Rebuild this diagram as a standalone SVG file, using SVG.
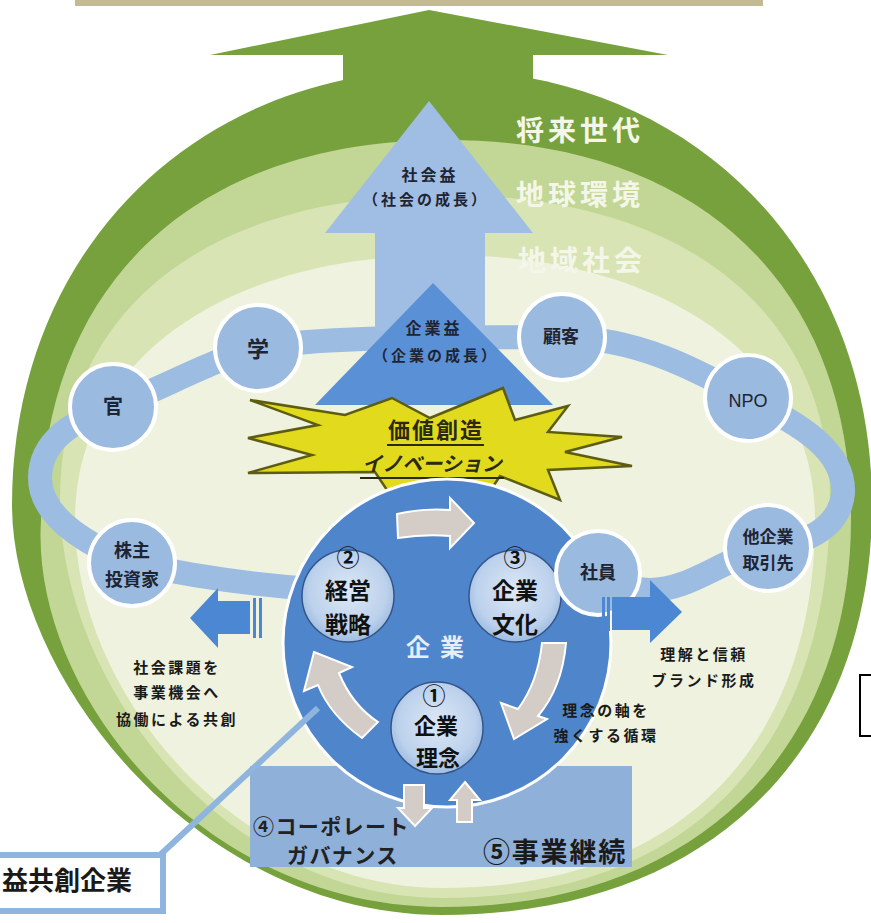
<svg xmlns="http://www.w3.org/2000/svg" width="871" height="923" viewBox="0 0 871 923">
<defs>
<style>
text{font-family:"Noto Sans CJK JP","Noto Sans",sans-serif;font-weight:700}
.ring{fill:#f4f6ea;font-size:28px;letter-spacing:4px}
.nd{fill:#9bbadf;stroke:#ffffff;stroke-width:4}
.nt{fill:#1f2433;text-anchor:middle}
.inner{fill:url(#ig);stroke:#34558a;stroke-width:1.5}
.it{fill:#111111;text-anchor:middle;font-size:23px}
.gray{fill:#d4ccc6;stroke:#ffffff;stroke-width:2}
.blk{fill:#1a1a1a;text-anchor:middle;font-size:15px;letter-spacing:2.5px}
.barr{fill:#4b87d3}
</style>
<radialGradient id="ig" cx="0.5" cy="0.45" r="0.6">
<stop offset="0" stop-color="#dde8f5"/>
<stop offset="0.7" stop-color="#bcd1ec"/>
<stop offset="1" stop-color="#93b4dc"/>
</radialGradient>
</defs>
<rect x="0" y="0" width="871" height="923" fill="#ffffff"/>
<rect x="75" y="-4" width="688" height="10" fill="#c3b995"/>

<g id="dome">
<path d="M429,10 L668,55 L533,55 L533,140 L343,140 L343,55 L210,55 Z" fill="#76a13c"/>
<path d="M442,70 C691,70 872,253 872,505 C872,740 720,915 442,915 C200,915 12,680 12,505 C12,253 193,70 442,70 Z" fill="#76a13c"/>
<path d="M446,140 C697,140 851,284 851,520 C851,735 712,907 442,907 C200,907 30,690 41,520 C41,284 195,140 446,140 Z" fill="#c2d695"/>
<path d="M445,195 C684,195 830,311 830,500 C830,735 705,898 442,898 C230,898 60,690 60,500 C60,311 206,195 445,195 Z" fill="#d8e4b4"/>
<path d="M445,255 C667,255 815,361 815,520 C815,730 695,888 442,888 C245,888 75,700 75,520 C75,361 223,255 445,255 Z" fill="#eef2df"/>
<text class="ring" x="516" y="141">将来世代</text>
<text class="ring" x="516" y="205">地球環境</text>
<text class="ring" x="518" y="271">地域社会</text>
</g>

<g id="connectors">
<path d="M132,563 C95,548 40,520 40,478 C40,440 75,420 113,407 C160,390 210,360 258,348 C330,335 470,338 562,337 C640,338 700,372 748,398 C800,425 845,450 843,493 C840,530 800,545 768,548 C720,560 690,590 650,590 C625,590 610,580 598,573 C480,600 300,600 132,563 Z" fill="none" stroke="#9cbce1" stroke-width="24"/>
</g>

<g id="social-arrow">
<path d="M429,101 L533,233 L485,233 L485,330 L375,330 L375,233 L325,233 Z" fill="#a0bee3"/>
<text class="nt" font-size="16" letter-spacing="3"><tspan x="430" y="181">社会益</tspan><tspan x="426" y="205" font-size="15">（社会の成長）</tspan></text>
</g>

<g id="corp-arrow">
<path d="M433,283 L553,405 L315,405 Z" fill="#5a90d6"/>
<text class="nt" font-size="16" letter-spacing="3"><tspan x="434" y="334">企業益</tspan><tspan x="436" y="361" font-size="15">（企業の成長）</tspan></text>
</g>

<g id="innovation">
<path d="M248,438 L318,425 L250,400 L345,415 L392,398 L430,418 L503,388 L515,420 L568,406 L548,432 L622,437 L565,452 L632,466 L548,470 L560,500 L500,476 L484,500 L448,480 L397,505 L375,472 L248,473 L312,455 Z" fill="#e2da1c" stroke="#5d5d12" stroke-width="2.5" stroke-linejoin="miter"/>
<text x="436" y="438" font-size="22" text-anchor="middle" letter-spacing="2" fill="#2a2a10">価値創造</text>
<line x1="387" y1="445" x2="484" y2="445" stroke="#2a2a10" stroke-width="2"/>
<text x="432" y="471" font-size="20" text-anchor="middle" font-style="italic" fill="#2a2a10">イノベーション</text>
<line x1="360" y1="478" x2="504" y2="478" stroke="#2a2a10" stroke-width="2"/>
</g>

<g id="continuity-box">
<rect x="250" y="766" width="382" height="101" fill="#8fb0d9"/>
<text font-size="21" letter-spacing="1.4" fill="#222222"><tspan x="253" y="834">④コーポレート</tspan><tspan x="287" y="863">ガバナンス</tspan></text>
<text x="483" y="862" font-size="27" letter-spacing="1.8" fill="#1a1a1a">⑤事業継続</text>
</g>

<g id="company">
<circle cx="447" cy="643" r="164" fill="#4f86cb" stroke="#ffffff" stroke-width="3"/>
<text x="440" y="656" font-size="24" text-anchor="middle" letter-spacing="10" fill="#e8eef8">企業</text>
<path class="gray" d="M397,514 Q424,508 450,510 L450,498 L474,523 L450,548 L450,536 Q424,534 398,538 Z"/>
<path class="gray" d="M542,643 L566,643 Q562,688 538,716 L547,719 L514,739 L501,703 L518,709 Q538,682 542,643 Z"/>
<path class="gray" d="M314,652 L352,667 L339,673 Q352,705 378,722 L362,738 Q330,715 318,685 L304,691 Z"/>
<path class="gray" d="M404,785 L424,785 L424,808 L432,808 L415,826 L398,808 L404,808 Z"/>
<path class="gray" d="M465,782 L480,800 L472,800 L472,822 L457,822 L457,800 L450,800 Z"/>
</g>

<g id="strategy">
<circle class="inner" cx="348" cy="596" r="46"/>
<text class="it" x="348" y="566" font-size="13">②</text>
<text class="it" x="348" y="599">経営</text>
<text class="it" x="348" y="633">戦略</text>
</g>
<g id="culture">
<circle class="inner" cx="515" cy="596" r="46"/>
<text class="it" x="515" y="566" font-size="13">③</text>
<text class="it" x="515" y="599">企業</text>
<text class="it" x="515" y="633">文化</text>
</g>
<g id="philosophy">
<circle class="inner" cx="437" cy="728" r="46"/>
<text class="it" x="434" y="704" font-size="12">①</text>
<text class="it" x="436" y="734" style="font-size:22px">企業</text>
<text class="it" x="438" y="766" style="font-size:22px">理念</text>
</g>

<g id="node-kan"><circle class="nd" cx="113" cy="407" r="43"/><text class="nt" x="113" y="414" font-size="20">官</text></g>
<g id="node-gaku"><circle class="nd" cx="258" cy="348" r="43"/><text class="nt" x="258" y="357" font-size="22">学</text></g>
<g id="node-kabunushi"><circle class="nd" cx="132" cy="563" r="43"/><text class="nt" font-size="18"><tspan x="132" y="557">株主</tspan><tspan x="132" y="586">投資家</tspan></text></g>
<g id="node-kokyaku"><circle class="nd" cx="562" cy="337" r="43"/><text class="nt" x="561" y="343" font-size="18">顧客</text></g>
<g id="node-npo"><circle class="nd" cx="748" cy="398" r="43"/><text class="nt" x="748" y="407" font-size="18" style="font-family:'Liberation Sans',sans-serif;font-weight:400">NPO</text></g>
<g id="node-takigyo"><circle class="nd" cx="768" cy="548" r="43"/><text class="nt" font-size="17"><tspan x="768" y="543">他企業</tspan><tspan x="768" y="569">取引先</tspan></text></g>
<g id="node-shain"><circle class="nd" cx="598" cy="573" r="42"/><text class="nt" x="598" y="579" font-size="18">社員</text></g>

<g id="left-arrow">
<path class="barr" d="M190,618 L218,588 L218,601 L250,601 L250,634 L218,634 L218,648 Z"/>
<rect class="barr" x="253" y="598" width="3" height="40"/>
<rect class="barr" x="259" y="598" width="3" height="40"/>
</g>
<g id="right-arrow">
<rect class="barr" x="602" y="597" width="3" height="34"/>
<rect class="barr" x="607" y="597" width="3" height="34"/>
<path class="barr" d="M612,597 L650,597 L650,580 L682,612 L650,643 L650,630 L612,630 Z"/>
</g>

<g id="left-text">
<text class="blk"><tspan x="177" y="673">社会課題を</tspan><tspan x="177" y="698">事業機会へ</tspan><tspan x="177" y="725">協働による共創</tspan></text>
</g>
<g id="right-text">
<text class="blk"><tspan x="704" y="660">理解と信頼</tspan><tspan x="704" y="686">ブランド形成</tspan></text>
<text class="blk"><tspan x="606" y="716">理念の軸を</tspan><tspan x="606" y="741">強くする循環</tspan></text>
</g>

<g id="label">
<line x1="160" y1="855" x2="318" y2="708" stroke="#8fb5df" stroke-width="6"/>
<rect x="-10" y="855" width="173" height="56" fill="#ffffff" stroke="#8fb5df" stroke-width="6"/>
<text x="2" y="890" font-size="26" fill="#1a1a1a">益共創企業</text>
</g>

<g id="bracket">
<path d="M872,675 L860,675 L860,736 L872,736" fill="none" stroke="#000000" stroke-width="2"/>
</g>
</svg>
